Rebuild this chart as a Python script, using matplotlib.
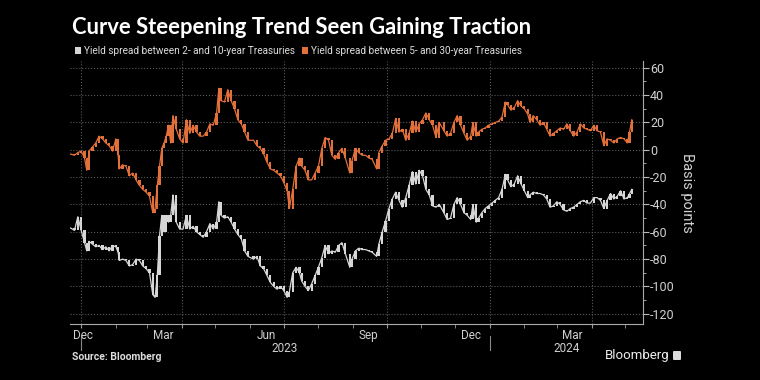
import pandas as pd
import matplotlib.pyplot as plt
import matplotlib.dates as mdates
import matplotlib.transforms as mtransforms
from matplotlib.patches import Patch, FancyBboxPatch
from matplotlib.ticker import MultipleLocator

plt.rcParams['font.family'] = ['Roboto', 'DejaVu Sans']
plt.rcParams['axes.unicode_minus'] = False

# day offsets from 2023-01-01 (~every 3 days)
days = [-10, -6, -3, 0, 3, 5, 7, 10, 13, 16, 19, 22, 25, 28, 31, 33, 34, 37, 40, 43,
        46, 49, 52, 55, 58, 61, 64, 66, 68, 70, 72, 74, 76, 78, 80, 82, 85, 88, 91, 94,
        97, 100, 103, 106, 109, 112, 115, 118, 121, 123, 125, 128, 131, 134, 137, 140, 143, 146, 149,
        154, 157, 160, 163, 166, 169, 172, 175, 178, 181, 184, 186, 189, 192, 195, 197, 200,
        203, 206, 209, 212, 215, 218, 221, 224, 227, 230, 233, 236, 240, 242, 245, 248, 251,
        254, 257, 260, 264, 266, 269, 272, 275, 278, 281, 284, 287, 290, 293, 296, 299, 302,
        305, 308, 311, 314, 317, 320,
        324, 327, 330, 333, 336, 339, 342, 345, 348, 350, 353, 355, 358, 361, 364, 367, 370,
        373, 376, 379, 381, 384, 387, 390, 393, 396, 399, 401, 404, 407, 410, 413, 416, 419,
        422, 425, 428, 431, 434, 437, 440, 443, 446, 449, 452, 455, 458, 461, 464, 467, 470,
        473, 476, 479, 482, 485, 488, 490, 492]

spread_2s10s = [-57, -59, -49, -59, -68, -74, -67, -69, -71, -70, -73, -71, -74, -70, -71, -75, -81, -80, -81, -85,
                -84, -80, -81, -85, -87, -90, -106, -108, -92, -63, -48, -60, -48, -53, -48, -33, -53, -58, -58, -48,
                -58, -56, -60, -62, -64, -60, -54, -58, -53, -38, -48, -50, -49, -53, -58, -62, -65, -74, -78,
                -80, -78, -85, -87, -92, -97, -100, -102, -100, -103, -108, -104, -90, -86, -90, -96, -100,
                -103, -98, -92, -86, -79, -70, -76, -74, -75, -70, -68, -76, -86, -80, -74, -72, -73,
                -73, -74, -75, -78, -69, -60, -52, -43, -36, -31, -37, -42, -35, -26, -16, -25, -15,
                -19, -29, -33, -41, -42, -40,
                -46, -51, -50, -40, -35, -40, -46, -48, -51, -40, -53, -50, -46, -43, -41, -39, -37,
                -35, -29, -18, -22, -27, -25, -19, -25, -30, -35, -33, -31, -32, -32, -33, -36, -42,
                -41, -38, -40, -44, -45, -43, -42, -40, -38, -37, -39, -39, -35, -35, -37, -43, -37,
                -32, -36, -34, -30, -36, -35, -32, -29]

spread_5s30s = [-3, -4, -2, -1, -6, -15, -1, 2, 5, 10, 8, 5, 3, -1, 8, -4, -14, -11, -12, -19,
                -17, -22, -26, -29, -31, -34, -46, -43, -26, -12, 1, 5, 10, 18, 5, 25, 15, 8, 5, 22,
                12, 18, 13, 10, 10, 13, 19, 18, 27, 45, 36, 35, 44, 36, 30, 22, 19, 13, 7,
                7, 3, 1, -3, -9, -14, -15, -17, -19, -24, -30, -43, -29, -12, -6, -12, -15,
                -22, -22, -17, -12, 1, 9, 7, -4, -7, -2, 1, -6, -17, -8, 1, -2, -4,
                -4, -6, -7, -14, -2, 3, 7, 8, 12, 23, 13, 15, 7, 12, 21, 13, 19,
                22, 27, 22, 18, 9, 20,
                14, 10, 12, 20, 25, 18, 12, 7, 10, 20, 10, 13, 15, 16, 18, 19, 20,
                21, 24, 35, 33, 29, 31, 36, 32, 30, 26, 20, 25, 22, 18, 20, 15, 10,
                12, 14, 16, 15, 19, 14, 10, 13, 19, 16, 15, 14, 18, 14, 13, 3, 8,
                7, 5, 8, 9, 8, 5, 13, 22]

series_labels = ['Yield spread between 2- and 10-year Treasuries',
                 'Yield spread between 5- and 30-year Treasuries']
series_colors = ['#d6d6d6', '#e2703a']

dates = pd.Timestamp('2023-01-01') + pd.to_timedelta(days, unit='D')
df = pd.DataFrame({'a': spread_2s10s, 'b': spread_5s30s}, index=dates)

fig = plt.figure(figsize=(7.6, 3.8), dpi=100, facecolor='black')
ax = fig.add_axes([70 / 760, 56 / 380, 573 / 760, 263 / 380])
ax.set_facecolor('black')

for col, color in zip(['a', 'b'], series_colors):
    s = df[col]
    prev = s.shift(1).fillna(s)
    # candle-like bodies from previous to current reading
    ax.bar(s.index, s - prev, bottom=prev, width=2.0, color=color, linewidth=0)
    ax.plot(s.index, s, color=color, lw=0.9)

ax.set_xlim(pd.Timestamp('2022-12-22'), pd.Timestamp('2024-05-17'))
ax.set_ylim(-127.5, 65)

# y axis on the right
ax.yaxis.tick_right()
ax.yaxis.set_label_position('right')
ax.set_yticks(range(-120, 61, 20))
ax.yaxis.set_minor_locator(MultipleLocator(10))
ax.tick_params(axis='y', which='major', colors='#bbbbbb', labelcolor='#d0d0d0',
               labelsize=9, length=4, pad=1)
ax.tick_params(axis='y', which='minor', colors='#bbbbbb', length=2)
ax.set_ylabel('Basis points', color='#d0d0d0', fontsize=10.5, rotation=270, labelpad=14)

# x axis: month ticks, quarter grid
ax.xaxis.set_major_locator(mdates.MonthLocator(bymonth=[1, 4, 7, 10]))
ax.xaxis.set_minor_locator(mdates.MonthLocator())
ax.tick_params(axis='x', which='both', colors='#999999', length=3, labelbottom=False)

ax.grid(True, which='major', color='#5a5a5a', linestyle=':', linewidth=0.8)
ax.set_axisbelow(True)

for side in ['top', 'left']:
    ax.spines[side].set_visible(False)
for side in ['right', 'bottom']:
    ax.spines[side].set_color('#aaaaaa')

trans = mtransforms.blended_transform_factory(ax.transData, ax.transAxes)
month_labels = [('2023-03-15', 'Mar'), ('2023-06-15', 'Jun'), ('2023-09-15', 'Sep'),
                ('2023-12-15', 'Dec'), ('2024-03-15', 'Mar')]
for d, lab in month_labels:
    ax.text(pd.Timestamp(d), -0.02, lab, transform=trans, ha='center', va='top',
            color='#d0d0d0', fontsize=8.5)
ax.text(0.005, -0.02, 'Dec', transform=ax.transAxes, ha='left', va='top',
        color='#d0d0d0', fontsize=8.5)
for d, lab in [('2023-07-02', '2023'), ('2024-03-10', '2024')]:
    ax.text(pd.Timestamp(d), -0.07, lab, transform=trans, ha='center', va='top',
            color='#d0d0d0', fontsize=8.5)
for d in ['2023-01-01', '2024-01-01']:
    ax.plot([pd.Timestamp(d)] * 2, [-0.045, -0.097], transform=trans, color='#888888',
            lw=0.8, clip_on=False)

fig.text(72 / 760, 1 - 28 / 380, 'Curve Steepening Trend Seen Gaining Traction',
         color='white', fontsize=15.8, fontweight='bold', va='center', ha='left',
         family=['Lato', 'DejaVu Sans'])

handles = [Patch(facecolor=c, edgecolor='none') for c in series_colors]
fig.legend(handles, series_labels, loc='center left', bbox_to_anchor=(71 / 760, 1 - 51 / 380),
           ncol=2, frameon=False, fontsize=7.2, labelcolor='#dddddd', handlelength=0.6,
           handleheight=0.6, handletextpad=0.3, columnspacing=0.7, borderaxespad=0)

fig.text(72 / 760, 1 - 357 / 380, 'Source: Bloomberg', color='#dddddd', fontsize=7.5,
         fontweight='bold', va='center', ha='left')
fig.text(669 / 760, 1 - 355 / 380, 'Bloomberg', color='#eeeeee', fontsize=9.5,
         va='center', ha='right')
fig.patches.append(FancyBboxPatch((673 / 760, 1 - 360 / 380), 8 / 760, 9 / 380,
                                  boxstyle='round,pad=0,rounding_size=0.002',
                                  transform=fig.transFigure, facecolor='#dddddd',
                                  edgecolor='none'))

fig.savefig('out.png', dpi=100, facecolor='black')
